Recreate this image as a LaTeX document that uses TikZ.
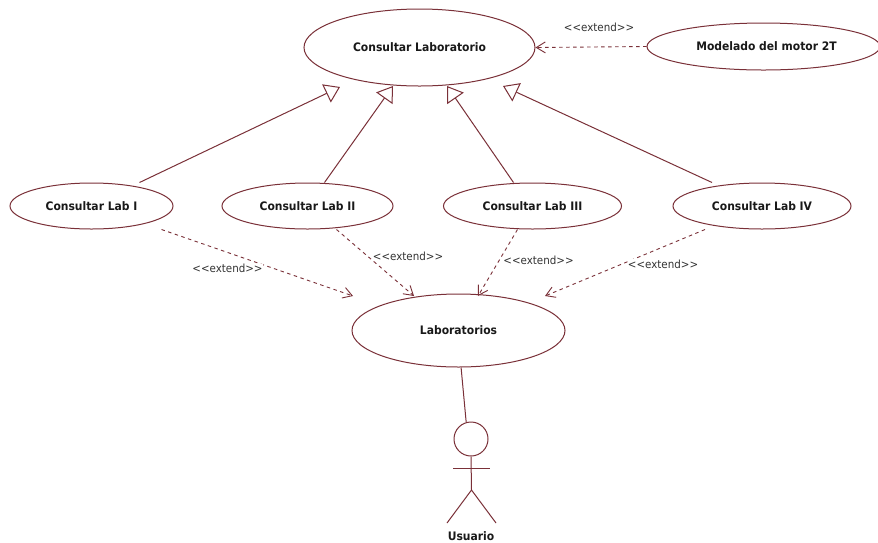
\documentclass[tikz,border=0pt]{standalone}
\usepackage{fontspec}
\setmainfont{DejaVu Sans}[FakeStretch=0.92]
\usetikzlibrary{shapes.geometric,arrows.meta}
\definecolor{umlline}{HTML}{7A3038}
\tikzset{
 x=1pt,y=-1pt,
 usecase/.style={draw=umlline,line width=1pt,ellipse,inner sep=0pt,font=\fontsize{11.7}{13}\selectfont\bfseries,text=black!90},
 gen/.style={draw=umlline,line width=1pt,-{Triangle[open,length=15pt,width=20pt,fill=white]}},
 dep/.style={draw=umlline,line width=0.9pt,dashed,dash pattern=on 3.5pt off 3.5pt,-{Straight Barb[length=9pt,width=11pt,line width=0.9pt]}},
 stereo/.style={font=\fontsize{11.2}{13}\selectfont,text=black!80,fill=white,inner sep=0.3pt},
 actorhead/.style={draw=umlline,line width=1pt,circle,minimum size=34pt,inner sep=0pt},
 limb/.style={draw=umlline,line width=1pt},
}
\begin{document}
\begin{tikzpicture}
\path[use as bounding box,fill=white] (0,0) rectangle (878,542);
\clip (0,0) rectangle (878,542);
\node[usecase,minimum width=231pt,minimum height=77pt] (main) at (419.5,47.5) {Consultar Laboratorio};
\node[usecase,minimum width=233pt,minimum height=47pt] (motor) at (763.5,46.5) {\hspace*{6pt}Modelado del motor 2T};
\node[usecase,minimum width=163pt,minimum height=46pt] (lab1) at (91.5,206) {Consultar Lab I};
\node[usecase,minimum width=171pt,minimum height=46pt] (lab2) at (307.5,206) {Consultar Lab II};
\node[usecase,minimum width=178pt,minimum height=46pt] (lab3) at (532.5,206) {Consultar Lab III};
\node[usecase,minimum width=178pt,minimum height=46pt] (lab4) at (762,206) {Consultar Lab IV};
\node[usecase,minimum width=213pt,minimum height=73pt] (labs) at (458.5,330.5) {Laboratorios};
\node[actorhead] (head) at (471,439) {};
\coordinate (tip1) at (340,87);
\coordinate (tip2) at (393,86);
\coordinate (tip3) at (447,86);
\coordinate (tip4) at (503,86);
\coordinate (tipA) at (353,296);
\coordinate (tipB) at (414,296);
\coordinate (tipC) at (478,296);
\coordinate (tipD) at (545,296);
\coordinate (hip) at (471.5,490);
\coordinate (armL) at (453,468);
\coordinate (armR) at (490,468);
\coordinate (footL) at (447,523);
\coordinate (footR) at (496,523);
\draw[gen] ([xshift=48pt]lab1.north) -- (tip1);
\draw[gen] ([xshift=17pt]lab2.north) -- (tip2);
\draw[gen] ([xshift=-19pt]lab3.north) -- (tip3);
\draw[gen] ([xshift=-50pt]lab4.north) -- (tip4);
\draw[dep] (motor.west) -- (main.east);
\draw[dep] ([xshift=70pt]lab1.south) -- (tipA);
\draw[dep] ([xshift=29pt]lab2.south) -- (tipB);
\draw[dep] ([xshift=-15pt]lab3.south) -- (tipC);
\draw[dep] ([xshift=-57pt]lab4.south) -- (tipD);
\draw[limb] (labs.-86) -- (head.106);
\draw[limb] (head.south) -- (hip);
\draw[limb] (armL) -- (armR);
\draw[limb] (footL) -- (hip) -- (footR);
\node[stereo] (s1) at (227.5,268.5) {<{}<extend>{}>};
\node[stereo] (s2) at (408,256.5) {<{}<extend>{}>};
\node[stereo] (s3) at (538.5,260.5) {<{}<extend>{}>};
\node[stereo] (s4) at (663,264) {<{}<extend>{}>};
\node[stereo] (s5) at (599,27) {<{}<extend>{}>};
\node[font=\fontsize{11.7}{13}\selectfont\bfseries,text=black!90] (actorname) at (471,536) {Usuario};
\end{tikzpicture}
\end{document}
